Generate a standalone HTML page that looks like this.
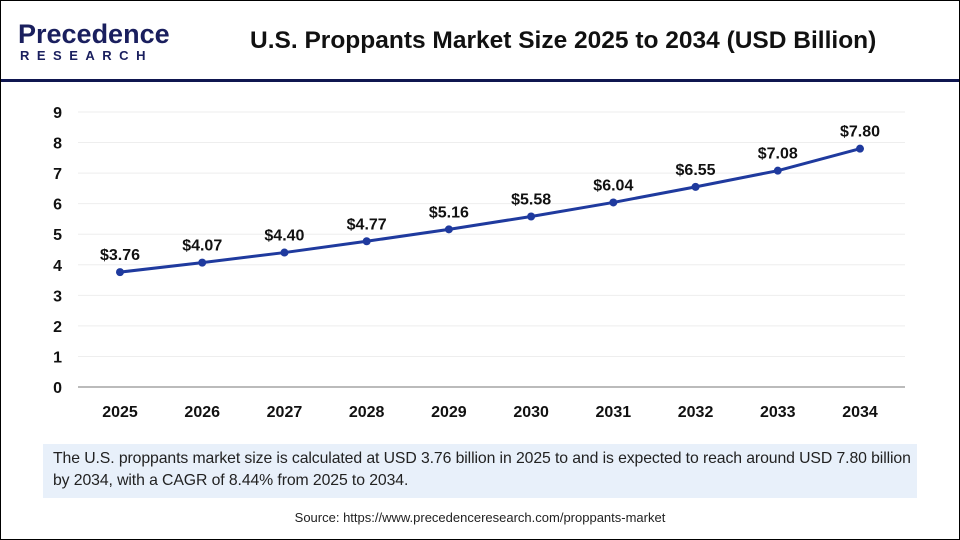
<!DOCTYPE html>
<html><head><meta charset="utf-8"><style>
body{margin:0;width:960px;height:540px;overflow:hidden;background:#fff;font-family:"Liberation Sans",sans-serif}
#frame{position:absolute;left:0;top:0;width:958px;height:538px;border:1px solid #000}
</style></head><body>
<div id="frame"></div>
<div style="position:absolute;left:18px;top:20px">
<div style="font-size:27px;color:#1a1f5e;font-weight:bold;letter-spacing:0px;line-height:28px">Precedence</div>
<div style="font-size:13px;color:#1a1f5e;font-weight:bold;letter-spacing:7.5px;margin-left:2px">RESEARCH</div></div>
<div style="position:absolute;left:250px;top:27px;font-size:24.5px;font-weight:bold;color:#111">U.S. Proppants Market Size 2025 to 2034 (USD Billion)</div>
<div style="position:absolute;left:1px;top:79px;width:958px;height:3px;background:#0f1650"></div>
<svg id="chart" width="960" height="540" style="position:absolute;left:0;top:0"></svg>
<div style="position:absolute;left:43px;top:444px;width:860px;height:46px;background:#e8f0fa;padding:4px 4px 4px 10px;font-size:15.8px;line-height:22px;color:#222;letter-spacing:-0.1px;white-space:nowrap;overflow:hidden">The U.S. proppants market size is calculated at USD 3.76 billion in 2025 to and is expected to reach around USD 7.80 billion<br>by 2034, with a CAGR of 8.44% from 2025 to 2034.</div>
<div style="position:absolute;left:0;width:960px;top:510px;text-align:center;font-size:13px;color:#222">Source: https://www.precedenceresearch.com/proppants-market</div>
<script>
const categories=["2025","2026","2027","2028","2029","2030","2031","2032","2033","2034"];
const values=[3.76,4.07,4.40,4.77,5.16,5.58,6.04,6.55,7.08,7.80];
const labels=["$3.76","$4.07","$4.40","$4.77","$5.16","$5.58","$6.04","$6.55","$7.08","$7.80"];
const yTicks=[0,1,2,3,4,5,6,7,8,9];
const svg=document.getElementById('chart'),NS="http://www.w3.org/2000/svg";
const x=i=>120+i*(740/9), y=v=>387-v*(275/9);
function mk(t,a,txt){const e=document.createElementNS(NS,t);for(const k in a)e.setAttribute(k,a[k]);if(txt!=null)e.textContent=txt;svg.appendChild(e);return e;}
yTicks.forEach(t=>{
 const g=mk('line',{x1:78,x2:905,y1:y(t),y2:y(t),stroke:t===0?'#bbb':'#eee','stroke-width':t===0?2:1});
 
 
 const l=mk('text',{x:62,y:y(t)+6,'text-anchor':'end','font-size':16,'font-weight':'bold',fill:'#111','font-family':'Liberation Sans'},t);
 
 
});
categories.forEach((c,i)=>{
 const l=mk('text',{x:x(i),y:417,'text-anchor':'middle','font-size':16,'font-weight':'bold',fill:'#111','font-family':'Liberation Sans'},c);
 
 
});
const p=mk('polyline',{points:values.map((v,i)=>x(i)+','+y(v)).join(' '),fill:'none',stroke:'#1f3a9e','stroke-width':3});


values.forEach((v,i)=>{
 const c=mk('circle',{cx:x(i),cy:y(v),r:4,fill:'#1f3a9e'});
 
 
 const t=mk('text',{x:x(i),y:y(v)-12,'text-anchor':'middle','font-size':16,'font-weight':'bold',fill:'#111','font-family':'Liberation Sans'},labels[i]);
 
 
});
</script>
</body></html>
